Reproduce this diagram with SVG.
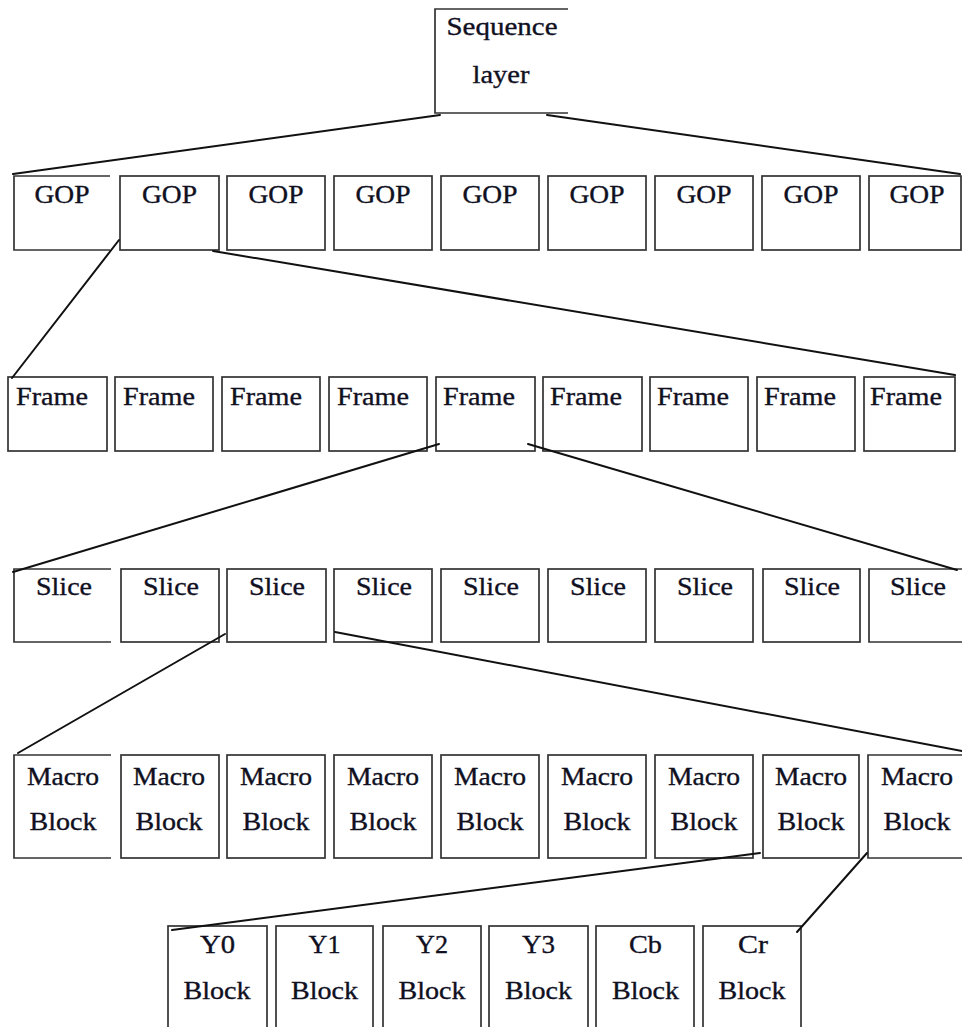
<svg xmlns="http://www.w3.org/2000/svg" width="962" height="1027" viewBox="0 0 962 1027">
  <style>
    .box { fill: none; stroke: #333; stroke-width: 1.7; }
    .t { font-family: "Liberation Serif", "Times New Roman", serif; font-size: 26px; fill: #10101f; stroke: #10101f; stroke-width: 0.35; text-anchor: middle; }
    .l { text-anchor: start; }
    .conn line { stroke: #111; stroke-width: 2; stroke-linecap: round; }
  </style>
  <rect width="962" height="1027" fill="#fff"/>

  <!-- root -->
  <g id="sequence">
    <path class="box" d="M568,9 H435 V113 H568"/>
    <text class="t" x="502" y="35" textLength="111" lengthAdjust="spacingAndGlyphs">Sequence</text>
    <text class="t" x="501" y="83" textLength="57" lengthAdjust="spacingAndGlyphs">layer</text>
  </g>

  <!-- GOP row -->
  <g id="gop1"><path class="box" d="M110,176 H14 V250 H110"/><text class="t" x="62" y="203" textLength="55" lengthAdjust="spacingAndGlyphs">GOP</text></g>
  <g id="gop2"><rect class="box" x="120" y="176" width="99" height="74"/><text class="t" x="169.5" y="203" textLength="55" lengthAdjust="spacingAndGlyphs">GOP</text></g>
  <g id="gop3"><rect class="box" x="227" y="176" width="98" height="74"/><text class="t" x="276" y="203" textLength="55" lengthAdjust="spacingAndGlyphs">GOP</text></g>
  <g id="gop4"><rect class="box" x="334" y="176" width="98" height="74"/><text class="t" x="383" y="203" textLength="55" lengthAdjust="spacingAndGlyphs">GOP</text></g>
  <g id="gop5"><rect class="box" x="441" y="176" width="98" height="74"/><text class="t" x="490" y="203" textLength="55" lengthAdjust="spacingAndGlyphs">GOP</text></g>
  <g id="gop6"><rect class="box" x="548" y="176" width="98" height="74"/><text class="t" x="597" y="203" textLength="55" lengthAdjust="spacingAndGlyphs">GOP</text></g>
  <g id="gop7"><rect class="box" x="655" y="176" width="98" height="74"/><text class="t" x="704" y="203" textLength="55" lengthAdjust="spacingAndGlyphs">GOP</text></g>
  <g id="gop8"><rect class="box" x="762" y="176" width="98" height="74"/><text class="t" x="811" y="203" textLength="55" lengthAdjust="spacingAndGlyphs">GOP</text></g>
  <g id="gop9"><rect class="box" x="869" y="176" width="92" height="74"/><text class="t" x="917" y="203" textLength="55" lengthAdjust="spacingAndGlyphs">GOP</text></g>

  <!-- Frame row -->
  <g id="frame1"><rect class="box" x="8" y="377" width="99" height="74"/><text class="t l" x="16" y="405" textLength="72" lengthAdjust="spacingAndGlyphs">Frame</text></g>
  <g id="frame2"><rect class="box" x="115" y="377" width="98" height="74"/><text class="t l" x="123" y="405" textLength="72" lengthAdjust="spacingAndGlyphs">Frame</text></g>
  <g id="frame3"><rect class="box" x="222" y="377" width="98" height="74"/><text class="t l" x="230" y="405" textLength="72" lengthAdjust="spacingAndGlyphs">Frame</text></g>
  <g id="frame4"><rect class="box" x="329" y="377" width="98" height="74"/><text class="t l" x="337" y="405" textLength="72" lengthAdjust="spacingAndGlyphs">Frame</text></g>
  <g id="frame5"><rect class="box" x="436" y="377" width="99" height="74"/><text class="t l" x="443" y="405" textLength="72" lengthAdjust="spacingAndGlyphs">Frame</text></g>
  <g id="frame6"><rect class="box" x="543" y="377" width="99" height="74"/><text class="t l" x="550" y="405" textLength="72" lengthAdjust="spacingAndGlyphs">Frame</text></g>
  <g id="frame7"><rect class="box" x="650" y="377" width="98" height="74"/><text class="t l" x="657" y="405" textLength="72" lengthAdjust="spacingAndGlyphs">Frame</text></g>
  <g id="frame8"><rect class="box" x="757" y="377" width="98" height="74"/><text class="t l" x="764" y="405" textLength="72" lengthAdjust="spacingAndGlyphs">Frame</text></g>
  <g id="frame9"><rect class="box" x="864" y="377" width="91" height="74"/><text class="t l" x="870" y="405" textLength="72" lengthAdjust="spacingAndGlyphs">Frame</text></g>

  <!-- Slice row -->
  <g id="slice1"><path class="box" d="M111,569 H14 V642 H111"/><text class="t" x="64" y="595" textLength="56" lengthAdjust="spacingAndGlyphs">Slice</text></g>
  <g id="slice2"><rect class="box" x="121" y="569" width="98" height="73"/><text class="t" x="171" y="595" textLength="56" lengthAdjust="spacingAndGlyphs">Slice</text></g>
  <g id="slice3"><rect class="box" x="227" y="569" width="99" height="73"/><text class="t" x="277" y="595" textLength="56" lengthAdjust="spacingAndGlyphs">Slice</text></g>
  <g id="slice4"><rect class="box" x="334" y="569" width="98" height="73"/><text class="t" x="384" y="595" textLength="56" lengthAdjust="spacingAndGlyphs">Slice</text></g>
  <g id="slice5"><rect class="box" x="441" y="569" width="98" height="73"/><text class="t" x="491" y="595" textLength="56" lengthAdjust="spacingAndGlyphs">Slice</text></g>
  <g id="slice6"><rect class="box" x="548" y="569" width="98" height="73"/><text class="t" x="598" y="595" textLength="56" lengthAdjust="spacingAndGlyphs">Slice</text></g>
  <g id="slice7"><rect class="box" x="655" y="569" width="98" height="73"/><text class="t" x="705" y="595" textLength="56" lengthAdjust="spacingAndGlyphs">Slice</text></g>
  <g id="slice8"><rect class="box" x="763" y="569" width="97" height="73"/><text class="t" x="812" y="595" textLength="56" lengthAdjust="spacingAndGlyphs">Slice</text></g>
  <g id="slice9"><path class="box" d="M962,569 H869 V642 H962"/><text class="t" x="918" y="595" textLength="56" lengthAdjust="spacingAndGlyphs">Slice</text></g>

  <!-- Macro block row -->
  <g id="mb1"><path class="box" d="M111,755 H14 V858 H111"/><text class="t" x="63" y="785" textLength="72" lengthAdjust="spacingAndGlyphs">Macro</text><text class="t" x="63" y="830" textLength="67" lengthAdjust="spacingAndGlyphs">Block</text></g>
  <g id="mb2"><rect class="box" x="121" y="755" width="98" height="103"/><text class="t" x="169" y="785" textLength="72" lengthAdjust="spacingAndGlyphs">Macro</text><text class="t" x="169" y="830" textLength="67" lengthAdjust="spacingAndGlyphs">Block</text></g>
  <g id="mb3"><rect class="box" x="227" y="755" width="98" height="103"/><text class="t" x="276" y="785" textLength="72" lengthAdjust="spacingAndGlyphs">Macro</text><text class="t" x="276" y="830" textLength="67" lengthAdjust="spacingAndGlyphs">Block</text></g>
  <g id="mb4"><rect class="box" x="334" y="755" width="98" height="103"/><text class="t" x="383" y="785" textLength="72" lengthAdjust="spacingAndGlyphs">Macro</text><text class="t" x="383" y="830" textLength="67" lengthAdjust="spacingAndGlyphs">Block</text></g>
  <g id="mb5"><rect class="box" x="441" y="755" width="98" height="103"/><text class="t" x="490" y="785" textLength="72" lengthAdjust="spacingAndGlyphs">Macro</text><text class="t" x="490" y="830" textLength="67" lengthAdjust="spacingAndGlyphs">Block</text></g>
  <g id="mb6"><rect class="box" x="548" y="755" width="98" height="103"/><text class="t" x="597" y="785" textLength="72" lengthAdjust="spacingAndGlyphs">Macro</text><text class="t" x="597" y="830" textLength="67" lengthAdjust="spacingAndGlyphs">Block</text></g>
  <g id="mb7"><rect class="box" x="655" y="755" width="98" height="103"/><text class="t" x="704" y="785" textLength="72" lengthAdjust="spacingAndGlyphs">Macro</text><text class="t" x="704" y="830" textLength="67" lengthAdjust="spacingAndGlyphs">Block</text></g>
  <g id="mb8"><rect class="box" x="763" y="755" width="96" height="103"/><text class="t" x="811" y="785" textLength="72" lengthAdjust="spacingAndGlyphs">Macro</text><text class="t" x="811" y="830" textLength="67" lengthAdjust="spacingAndGlyphs">Block</text></g>
  <g id="mb9"><path class="box" d="M962,755 H868 V858 H962"/><text class="t" x="917" y="785" textLength="72" lengthAdjust="spacingAndGlyphs">Macro</text><text class="t" x="917" y="830" textLength="67" lengthAdjust="spacingAndGlyphs">Block</text></g>

  <!-- 8x8 block row -->
  <g id="y0"><rect class="box" x="168" y="926" width="99" height="110"/><text class="t" x="217.5" y="953" textLength="35" lengthAdjust="spacingAndGlyphs">Y0</text><text class="t" x="217" y="999" textLength="67" lengthAdjust="spacingAndGlyphs">Block</text></g>
  <g id="y1"><rect class="box" x="276" y="926" width="97" height="110"/><text class="t" x="324.5" y="953" textLength="32" lengthAdjust="spacingAndGlyphs">Y1</text><text class="t" x="324.5" y="999" textLength="67" lengthAdjust="spacingAndGlyphs">Block</text></g>
  <g id="y2"><rect class="box" x="383" y="926" width="98" height="110"/><text class="t" x="432" y="953" textLength="32" lengthAdjust="spacingAndGlyphs">Y2</text><text class="t" x="432" y="999" textLength="67" lengthAdjust="spacingAndGlyphs">Block</text></g>
  <g id="y3"><rect class="box" x="489" y="926" width="99" height="110"/><text class="t" x="538.5" y="953" textLength="33" lengthAdjust="spacingAndGlyphs">Y3</text><text class="t" x="538.5" y="999" textLength="67" lengthAdjust="spacingAndGlyphs">Block</text></g>
  <g id="cb"><rect class="box" x="596" y="926" width="98" height="110"/><text class="t" x="645.5" y="953" textLength="33" lengthAdjust="spacingAndGlyphs">Cb</text><text class="t" x="645.5" y="999" textLength="67" lengthAdjust="spacingAndGlyphs">Block</text></g>
  <g id="cr"><rect class="box" x="703" y="926" width="98" height="110"/><text class="t" x="753" y="953" textLength="30" lengthAdjust="spacingAndGlyphs">Cr</text><text class="t" x="752" y="999" textLength="67" lengthAdjust="spacingAndGlyphs">Block</text></g>

  <!-- fan-out connectors -->
  <g class="conn" id="connectors">
    <line x1="440" y1="115" x2="13" y2="174"/>
    <line x1="547" y1="115" x2="960" y2="174"/>
    <line x1="119" y1="240" x2="12" y2="378"/>
    <line x1="213" y1="251" x2="955" y2="375"/>
    <line x1="439" y1="444" x2="13" y2="572"/>
    <line x1="528" y1="444" x2="957" y2="570"/>
    <line x1="225" y1="634" x2="18" y2="753"/>
    <line x1="335" y1="632" x2="962" y2="751"/>
    <line x1="760" y1="853" x2="172" y2="930"/>
    <line x1="867" y1="853" x2="797" y2="932"/>
  </g>
</svg>
